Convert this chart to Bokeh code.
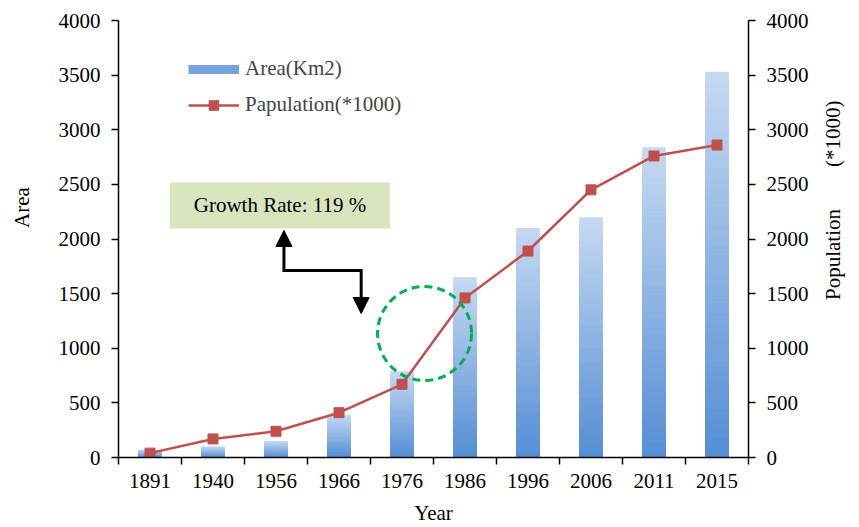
import numpy as np
from bokeh.plotting import figure
from bokeh.models import (Range1d, LinearAxis, FixedTicker, Legend, LegendItem, Label,
                          BoxAnnotation, Arrow, NormalHead, ColumnDataSource)
from bokeh.embed import file_html
from bokeh.resources import INLINE

# ---------------- data ----------------
years = ["1891", "1940", "1956", "1966", "1976", "1986", "1996", "2006", "2011", "2015"]
area = [70, 100, 150, 390, 790, 1650, 2100, 2200, 2840, 3530]
population = [40, 170, 240, 410, 670, 1460, 1890, 2450, 2760, 2860]
y_ticks = [0, 500, 1000, 1500, 2000, 2500, 3000, 3500, 4000]

FONT = "Liberation Serif"
FS = "21px"
NBSP = "\u00a0"
xs = list(range(len(years)))

p = figure(width=859, height=527, output_backend="svg", toolbar_location=None,
           x_range=Range1d(-0.5, len(years) - 0.5), y_range=Range1d(0, 4000),
           min_border_left=118, min_border_right=105, min_border_top=20,
           min_border_bottom=70)
p.extra_y_ranges = {"pop": Range1d(0, 4000)}
p.xgrid.visible = False
p.ygrid.visible = False
p.outline_line_color = None

# ---------------- gradient bars (overlapping, darkest drawn last) ----------------
N = 40
top_c = np.array([198, 217, 241])
bot_c = np.array([85, 142, 213])
sx, st, sc = [], [], []
for k in range(N - 1, -1, -1):
    c = bot_c + (top_c - bot_c) * ((k + 0.5) / N)
    col = "#%02x%02x%02x" % tuple(int(round(z)) for z in c)
    for i, v in enumerate(area):
        sx.append(xs[i])
        st.append(v * (k + 1) / N)
        sc.append(col)
bar_src = ColumnDataSource(dict(x=sx, top=st, color=sc))
p.vbar(x="x", bottom=0, top="top", width=0.375, source=bar_src,
       fill_color="color", line_color=None)

# ---------------- population line ----------------
line_r = p.line(xs, population, y_range_name="pop", line_color="#c0504d", line_width=2.5)
mark_r = p.scatter(xs, population, y_range_name="pop", marker="square", size=10,
                   fill_color="#c0504d", line_color="#c0504d")

# ---------------- axes ----------------
xaxis = p.xaxis[0]
xaxis.ticker = FixedTicker(ticks=xs, minor_ticks=[i - 0.5 for i in range(len(years) + 1)])
xaxis.major_label_overrides = {i: y for i, y in zip(xs, years)}
xaxis.major_tick_out = 0
xaxis.major_tick_in = 0
xaxis.minor_tick_out = 7
xaxis.minor_tick_in = 0
xaxis.minor_tick_line_color = "black"
xaxis.minor_tick_line_width = 1.5
xaxis.axis_label = "Year"
xaxis.axis_label_standoff = 10
xaxis.major_label_standoff = 9

raxis = LinearAxis(y_range_name="pop")
p.add_layout(raxis, "right")
p.yaxis[0].axis_label = NBSP * 12 + "Area"
raxis.axis_label = NBSP * 30 + "Population" + NBSP * 8 + "(*1000)"
raxis.axis_label_orientation = np.pi / 2
raxis.axis_label_align = "start"

for ax in [xaxis, p.yaxis[0], raxis]:
    ax.axis_line_color = "black"
    ax.axis_line_width = 1.5
    ax.major_label_text_font = FONT
    ax.major_label_text_font_size = FS
    ax.major_label_text_color = "black"
    ax.axis_label_text_font = FONT
    ax.axis_label_text_font_size = FS
    ax.axis_label_text_font_style = "normal"
    ax.axis_label_text_color = "black"
for ax in [p.yaxis[0], raxis]:
    ax.ticker = FixedTicker(ticks=y_ticks)
    ax.major_tick_out = 7
    ax.major_tick_in = 0
    ax.major_tick_line_color = "black"
    ax.major_tick_line_width = 1.5
    ax.minor_tick_out = 0
    ax.minor_tick_in = 0
    ax.major_label_standoff = 11
p.yaxis[0].axis_label_standoff = 22
raxis.axis_label_standoff = 21

# ---------------- legend ----------------
proxy = p.line(x=[xs[0], xs[1]], y=[-1000, -1000], line_color="#76a3de", line_width=9)
legend = Legend(items=[LegendItem(label="Area(Km2)", renderers=[proxy]),
                       LegendItem(label="Papulation(*1000)", renderers=[line_r, mark_r])],
                location=(70, 340), glyph_width=51, glyph_height=24, label_standoff=6,
                spacing=11, padding=0, margin=0, border_line_color=None,
                background_fill_alpha=0, label_text_font=FONT, label_text_font_size=FS)
p.add_layout(legend)

# ---------------- annotation ----------------
p.add_layout(BoxAnnotation(left=0.318, right=3.808, bottom=2096, top=2517,
                           fill_color="#d7e4bd", fill_alpha=1, line_color=None))
p.add_layout(Label(x=2.063, y=2307, text="Growth Rate: 119 %", text_align="center",
                   text_baseline="middle", text_font=FONT, text_font_size=FS,
                   text_color="black"))
p.line([2.126, 2.126, 3.352, 3.352], [2005, 1712, 1712, 1391], line_color="black",
       line_width=3, line_join="miter")
p.add_layout(Arrow(x_start=2.126, y_start=1712, x_end=2.126, y_end=2078, line_alpha=0,
                   end=NormalHead(size=16, fill_color="black", line_color="black")))
p.add_layout(Arrow(x_start=3.352, y_start=1712, x_end=3.352, y_end=1318, line_alpha=0,
                   end=NormalHead(size=16, fill_color="black", line_color="black")))
p.scatter([4.358], [1135], marker="circle", size=94, fill_color=None,
          line_color="#00b050", line_width=3, line_dash="8 5")

open("out.html", "w").write(file_html(p, INLINE))
